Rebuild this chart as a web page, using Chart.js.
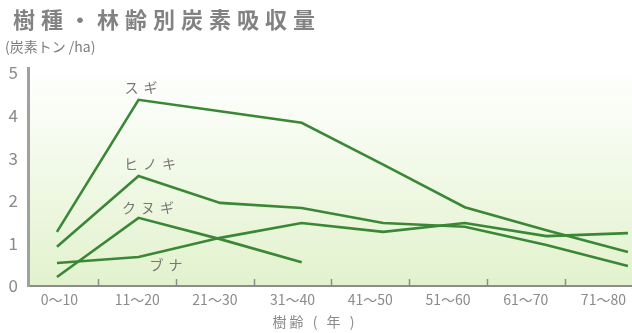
<!DOCTYPE html>
<html>
<head>
<meta charset="utf-8">
<script src="https://cdn.jsdelivr.net/npm/chart.js@4.4.1/dist/chart.umd.min.js"></script>
<style>
  html, body { margin: 0; padding: 0; background: #fff; }
  #wrap { width: 632px; height: 333px; }
</style>
</head>
<body>
<div id="wrap"><canvas id="c" width="632" height="333"></canvas></div>
<script>
// 樹種・林齢別炭素吸収量 (炭素トン/ha)
const ageLabels = ['0〜10', '11〜20', '21〜30', '31〜40', '41〜50', '51〜60', '61〜70', '71〜80'];
const sugi   = [1.27, 4.37, 4.10, 3.83, 2.85, 1.85, 1.31, 0.80];
const hinoki = [0.92, 2.58, 1.95, 1.83, 1.48, 1.39, 0.96, 0.47];
const kunugi = [0.21, 1.60, 1.10, 0.56];
const buna   = [0.54, 0.68, 1.13, 1.48, 1.27, 1.48, 1.17, 1.24];
const seriesNames = ['スギ', 'ヒノキ', 'クヌギ', 'ブナ'];
const yTicks = [0, 1, 2, 3, 4, 5];

const FONT = '"Noto Sans CJK JP", "Noto Sans", sans-serif';
const LINE = '#3a8735';

// where each series name sits, relative to its 11〜20 point
const nameOffsets = [[5, -12], [14, -12], [12, -10], [30, 8]];

function toPoints(arr) {
  return arr.map((v, i) => ({ x: i, y: v }));
}

function approxInt(v) {
  return Math.abs(v - Math.round(v)) < 1e-6;
}

const decor = {
  id: 'decor',
  beforeDraw(chart) {
    const { ctx, chartArea: a } = chart;
    const g = ctx.createLinearGradient(0, a.top, 0, a.bottom);
    g.addColorStop(0, '#ffffff');
    g.addColorStop(1, '#e2f2cd');
    ctx.save();
    ctx.fillStyle = g;
    ctx.fillRect(a.left, a.top - 6, a.right - a.left, a.bottom - a.top + 6);
    ctx.restore();
  },
  afterDatasetsDraw(chart) {
    const { ctx, chartArea: a } = chart;
    const x2 = chart.scales.x2;

    // short upward tick marks between the age classes
    ctx.save();
    ctx.strokeStyle = '#8c8c8c';
    ctx.lineWidth = 1.5;
    for (let i = 0; i < ageLabels.length - 1; i++) {
      const px = Math.round(x2.getPixelForValue(i + 0.5)) + 0.5;
      ctx.beginPath();
      ctx.moveTo(px, a.bottom);
      ctx.lineTo(px, a.bottom - 7);
      ctx.stroke();
    }
    ctx.restore();

    // series names next to the lines
    ctx.save();
    ctx.font = '14px ' + FONT;
    ctx.fillStyle = '#777';
    ctx.textAlign = 'center';
    ctx.textBaseline = 'middle';
    if ('letterSpacing' in ctx) ctx.letterSpacing = '5px';
    chart.data.datasets.forEach((ds, i) => {
      const pt = chart.getDatasetMeta(i).data[1];
      if (!pt) return;
      const [dx, dy] = nameOffsets[i];
      ctx.fillText(ds.label, pt.x + dx, pt.y + dy);
    });
    ctx.restore();
  },
  afterDraw(chart) {
    const { ctx } = chart;
    ctx.save();
    ctx.textBaseline = 'middle';
    ctx.textAlign = 'left';

    ctx.fillStyle = '#828282';
    ctx.font = 'bold 22px ' + FONT;
    if ('letterSpacing' in ctx) ctx.letterSpacing = '6px';
    ctx.fillText('樹種・林齢別炭素吸収量', 13, 20);

    ctx.fillStyle = '#7d7d7d';
    ctx.font = '14px ' + FONT;
    if ('letterSpacing' in ctx) ctx.letterSpacing = '0px';
    ctx.fillText('(炭素トン /ha)', 5, 47);

    ctx.fillStyle = '#8a8a8a';
    ctx.textAlign = 'center';
    if ('letterSpacing' in ctx) ctx.letterSpacing = '3px';
    ctx.fillText('樹齢 ( 年 )', 315, 322);
    ctx.restore();
  }
};

const lineStyle = {
  borderColor: LINE,
  borderWidth: 2.6,
  pointRadius: 0,
  tension: 0,
  fill: false,
  xAxisID: 'x',
  yAxisID: 'y'
};

new Chart(document.getElementById('c'), {
  type: 'line',
  data: {
    datasets: [
      { label: seriesNames[0], data: toPoints(sugi), ...lineStyle },
      { label: seriesNames[1], data: toPoints(hinoki), ...lineStyle },
      { label: seriesNames[2], data: toPoints(kunugi), ...lineStyle },
      { label: seriesNames[3], data: toPoints(buna), ...lineStyle }
    ]
  },
  options: {
    responsive: false,
    animation: false,
    devicePixelRatio: 1,
    layout: { padding: { top: 68.7, left: 0, right: 0, bottom: 0 } },
    plugins: {
      legend: { display: false },
      tooltip: { enabled: false },
      title: { display: false }
    },
    scales: {
      x: {
        type: 'linear',
        display: false,
        min: -0.355,
        max: 7.05
      },
      x2: {
        type: 'linear',
        position: 'bottom',
        min: -0.405,
        max: 7.368,
        afterFit: s => { s.height = 47; },
        grid: { display: false, drawTicks: false },
        border: { display: true, color: '#8c8c8c', width: 2 },
        ticks: {
          stepSize: 0.5,
          includeBounds: false,
          autoSkip: false,
          maxRotation: 0,
          padding: 5,
          color: '#8a8a8a',
          font: { size: 14, family: FONT },
          callback: v => approxInt(v) ? (ageLabels[Math.round(v)] || '') : ''
        }
      },
      y: {
        type: 'linear',
        min: yTicks[0],
        max: 5.1,
        afterFit: s => { s.width = 28; },
        grid: { display: false, drawTicks: false },
        border: { display: true, color: '#a0a0a0', width: 3 },
        ticks: {
          stepSize: 1,
          includeBounds: false,
          padding: 10,
          color: '#8a8a8a',
          font: { size: 17, family: FONT },
          callback: v => yTicks.includes(v) ? String(v) : ''
        }
      }
    }
  },
  plugins: [decor]
});
</script>
</body>
</html>
